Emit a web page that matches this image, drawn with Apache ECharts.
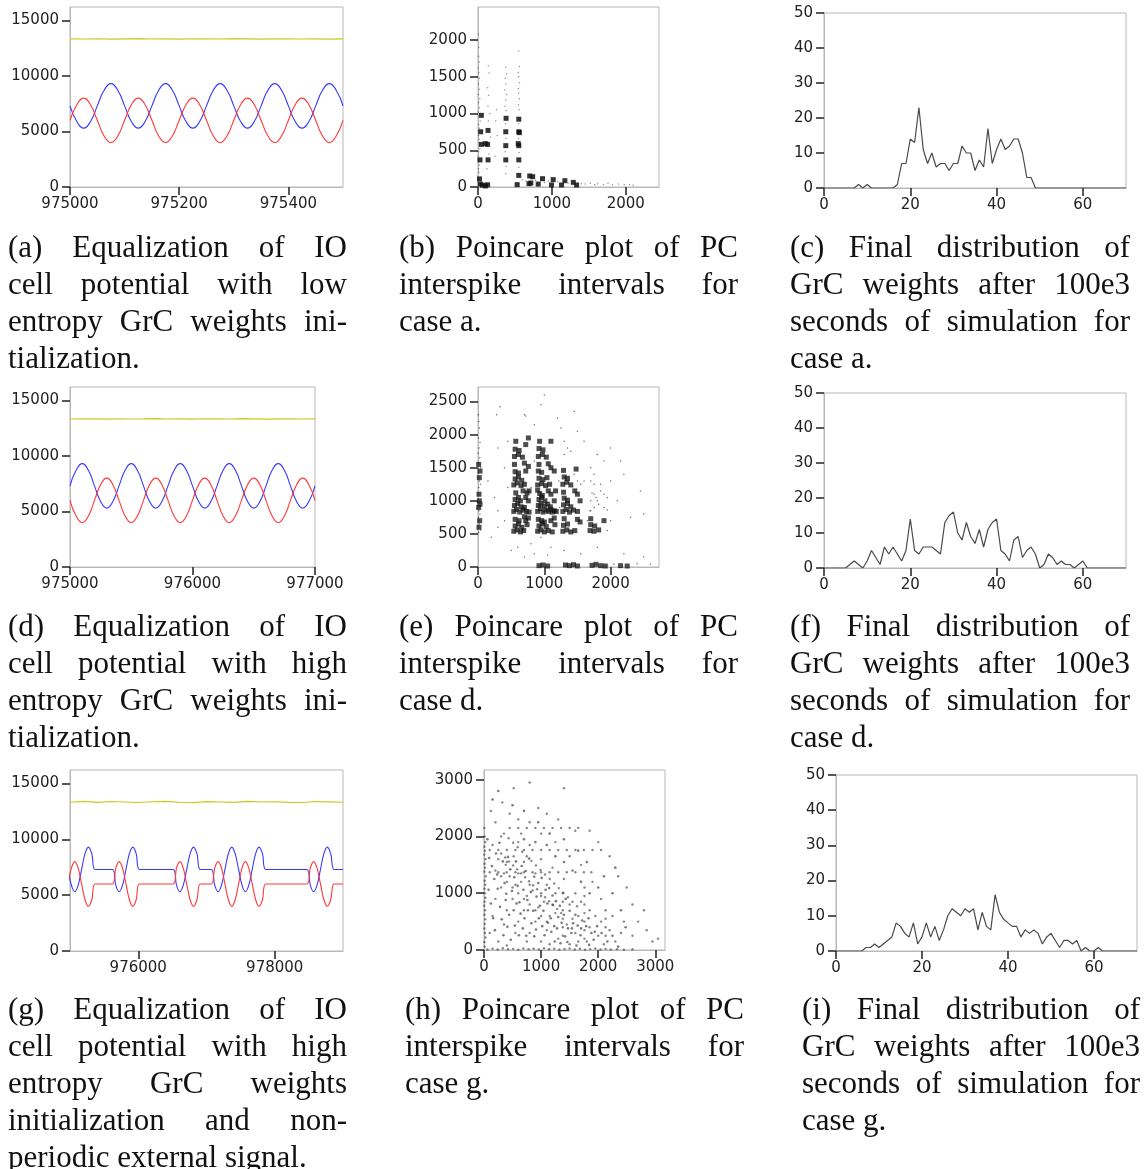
<!DOCTYPE html>
<html>
<head>
<meta charset="utf-8">
<title>IO cell equalization, Poincare plots and GrC weight distributions</title>
<script src="https://cdn.jsdelivr.net/npm/echarts@6/dist/echarts.min.js"></script>
<style>
  html, body { margin: 0; padding: 0; background: #fff; }
  #chart { position: absolute; left: 0; top: 0; width: 1144px; height: 1169px; }
  .cap {
    position: absolute;
    width: 339px;
    font-family: "Liberation Serif", "Times New Roman", serif;
    font-size: 31px;
    line-height: 37px;
    color: #111;
  }
  .cap div { text-align: justify; text-align-last: justify; }
  .cap div.last { text-align: left; text-align-last: left; }
</style>
</head>
<body>
<div id="chart"></div>

<!-- captions -->
<div class="cap" style="left:8px; top:228px;">
  <div>(a) Equalization of IO</div>
  <div>cell potential with low</div>
  <div>entropy GrC weights ini-</div>
  <div class="last">tialization.</div>
</div>
<div class="cap" style="left:399px; top:228px;">
  <div>(b) Poincare plot of PC</div>
  <div>interspike intervals for</div>
  <div class="last">case a.</div>
</div>
<div class="cap" style="left:790px; top:228px; width:340px;">
  <div>(c) Final distribution of</div>
  <div>GrC weights after 100e3</div>
  <div>seconds of simulation for</div>
  <div class="last">case a.</div>
</div>
<div class="cap" style="left:8px; top:607px;">
  <div>(d) Equalization of IO</div>
  <div>cell potential with high</div>
  <div>entropy GrC weights ini-</div>
  <div class="last">tialization.</div>
</div>
<div class="cap" style="left:399px; top:607px;">
  <div>(e) Poincare plot of PC</div>
  <div>interspike intervals for</div>
  <div class="last">case d.</div>
</div>
<div class="cap" style="left:790px; top:607px; width:340px;">
  <div>(f) Final distribution of</div>
  <div>GrC weights after 100e3</div>
  <div>seconds of simulation for</div>
  <div class="last">case d.</div>
</div>
<div class="cap" style="left:8px; top:990px;">
  <div>(g) Equalization of IO</div>
  <div>cell potential with high</div>
  <div>entropy GrC weights</div>
  <div>initialization and non-</div>
  <div class="last">periodic external signal.</div>
</div>
<div class="cap" style="left:405px; top:990px;">
  <div>(h) Poincare plot of PC</div>
  <div>interspike intervals for</div>
  <div class="last">case g.</div>
</div>
<div class="cap" style="left:802px; top:990px; width:338px;">
  <div>(i) Final distribution of</div>
  <div>GrC weights after 100e3</div>
  <div>seconds of simulation for</div>
  <div class="last">case g.</div>
</div>

<script>
// ---------- data: IO cell potentials ----------
// (a) low entropy, 975000-975500
const timeA = [975000, 975012.5, 975025, 975037.5, 975050, 975062.5, 975075, 975087.5,
  975100, 975112.5, 975125, 975137.5, 975150, 975162.5, 975175, 975187.5,
  975200, 975212.5, 975225, 975237.5, 975250, 975262.5, 975275, 975287.5,
  975300, 975312.5, 975325, 975337.5, 975350, 975362.5, 975375, 975387.5,
  975400, 975412.5, 975425, 975437.5, 975450, 975462.5, 975475, 975487.5, 975500];
const blueA = [7300, 5890, 5300, 5890, 7300, 8710, 9300, 8710,
  7300, 5890, 5300, 5890, 7300, 8710, 9300, 8710,
  7300, 5890, 5300, 5890, 7300, 8710, 9300, 8710,
  7300, 5890, 5300, 5890, 7300, 8710, 9300, 8710,
  7300, 5890, 5300, 5890, 7300, 8710, 9300, 8710, 7300];
const redA = [6000, 7410, 8000, 7410, 6000, 4590, 4000, 4590,
  6000, 7410, 8000, 7410, 6000, 4590, 4000, 4590,
  6000, 7410, 8000, 7410, 6000, 4590, 4000, 4590,
  6000, 7410, 8000, 7410, 6000, 4590, 4000, 4590,
  6000, 7410, 8000, 7410, 6000, 4590, 4000, 4590, 6000];
const timeYA = [975000, 975025, 975050, 975075, 975100, 975125, 975150, 975175, 975200, 975225, 975250,
  975275, 975300, 975325, 975350, 975375, 975400, 975425, 975450, 975475, 975500];
const yellowA = [13330, 13320, 13340, 13310, 13330, 13350, 13320, 13330, 13310, 13340, 13330,
  13320, 13350, 13330, 13310, 13330, 13340, 13320, 13330, 13310, 13330];

// (d) high entropy, 975000-977000
const timeD = [975000, 975050, 975100, 975150, 975200, 975250, 975300, 975350,
  975400, 975450, 975500, 975550, 975600, 975650, 975700, 975750,
  975800, 975850, 975900, 975950, 976000, 976050, 976100, 976150,
  976200, 976250, 976300, 976350, 976400, 976450, 976500, 976550,
  976600, 976650, 976700, 976750, 976800, 976850, 976900, 976950, 977000];
const blueD = [7300, 8710, 9300, 8710, 7300, 5890, 5300, 5890,
  7300, 8710, 9300, 8710, 7300, 5890, 5300, 5890,
  7300, 8710, 9300, 8710, 7300, 5890, 5300, 5890,
  7300, 8710, 9300, 8710, 7300, 5890, 5300, 5890,
  7300, 8710, 9300, 8710, 7300, 5890, 5300, 5890, 7300];
const redD = [6000, 4590, 4000, 4590, 6000, 7410, 8000, 7410,
  6000, 4590, 4000, 4590, 6000, 7410, 8000, 7410,
  6000, 4590, 4000, 4590, 6000, 7410, 8000, 7410,
  6000, 4590, 4000, 4590, 6000, 7410, 8000, 7410,
  6000, 4590, 4000, 4590, 6000, 7410, 8000, 7410, 6000];
const timeYD = [975000, 975100, 975200, 975300, 975400, 975500, 975600, 975700, 975800, 975900, 976000,
  976100, 976200, 976300, 976400, 976500, 976600, 976700, 976800, 976900, 977000];
const yellowD = [13320, 13340, 13330, 13310, 13340, 13320, 13330, 13350, 13320, 13330, 13310,
  13340, 13330, 13320, 13350, 13330, 13310, 13330, 13340, 13320, 13330];

// (g) non-periodic signal, 975000-979000
const timeG = [974970, 975020, 975070, 975120, 975170, 975220, 975270, 975320, 975370,
  975620, 975670, 975720, 975770, 975820, 975870, 975920, 975970, 976020,
  976510, 976560, 976610, 976660, 976710, 976760, 976810, 976860, 976910,
  977070, 977120, 977170, 977220, 977270, 977320, 977370, 977420, 977470,
  977520, 977570, 977620, 977670, 977720, 977770, 977820, 977870,
  978470, 978520, 978570, 978620, 978670, 978720, 978770, 978820, 978870,
  979000];
const blueG = [7300, 5890, 5300, 5890, 7300, 8710, 9300, 8710, 7300,
  7300, 5890, 5300, 5890, 7300, 8710, 9300, 8710, 7300,
  7300, 5890, 5300, 5890, 7300, 8710, 9300, 8710, 7300,
  7300, 5890, 5300, 5890, 7300, 8710, 9300, 8710, 7300,
  5890, 5300, 5890, 7300, 8710, 9300, 8710, 7300,
  7300, 5890, 5300, 5890, 7300, 8710, 9300, 8710, 7300,
  7300];
const redG = [6000, 7410, 8000, 7410, 6000, 4590, 4000, 4590, 6000,
  6000, 7410, 8000, 7410, 6000, 4590, 4000, 4590, 6000,
  6000, 7410, 8000, 7410, 6000, 4590, 4000, 4590, 6000,
  6000, 7410, 8000, 7410, 6000, 4590, 4000, 4590, 6000,
  7410, 8000, 7410, 6000, 4590, 4000, 4590, 6000,
  6000, 7410, 8000, 7410, 6000, 4590, 4000, 4590, 6000,
  6000];
const timeYG = [975000, 975200, 975400, 975600, 975800, 976000, 976200, 976400, 976600, 976800, 977000,
  977200, 977400, 977600, 977800, 978000, 978200, 978400, 978600, 978800, 979000];
const yellowG = [13320, 13390, 13300, 13380, 13340, 13290, 13360, 13390, 13310, 13280, 13370,
  13340, 13300, 13390, 13330, 13360, 13300, 13290, 13380, 13350, 13320];

// ---------- data: PC interspike Poincare plots ----------
// (b) dense clusters and sparse dots
const blobsB = [[376, 369], [376, 563], [376, 752], [380, 935], [552, 369], [552, 563], [552, 752], [552, 923],
  [545, 590], [560, 740], [136, 369], [130, 580], [100, 590], [136, 770], [36, 752], [45, 580], [27, 369],
  [45, 975], [30, 40], [60, 25], [100, 15], [20, 110], [130, 30], [530, 32], [552, 158], [700, 150], [740, 140],
  [715, 54], [690, 45], [873, 113], [815, 40], [1018, 100], [995, 27], [1176, 86], [1131, 27], [1290, 63], [1335, 27]];
const dotsB = [[5, 2080], [10, 1900], [8, 1780], [15, 1700], [5, 1620], [12, 1560], [20, 1480], [8, 1400], [15, 1330],
  [5, 1260], [25, 1200], [10, 1150], [18, 1080], [6, 1020], [30, 900], [12, 850], [20, 800], [8, 700], [15, 650],
  [25, 520], [10, 480], [5, 420], [18, 300], [8, 250], [12, 200],
  [140, 1650], [150, 1550], [130, 1350], [145, 1250], [135, 1100], [160, 1000], [140, 900], [170, 680], [150, 450], [120, 250],
  [250, 1050], [240, 900], [260, 700], [230, 420],
  [376, 1630], [385, 1540], [368, 1480], [378, 1400], [362, 1320], [388, 1260], [376, 1180], [366, 1100], [384, 1040],
  [372, 860], [378, 660], [370, 480], [380, 280], [376, 180],
  [552, 1850], [560, 1640], [544, 1560], [552, 1500], [562, 1420], [546, 1340], [552, 1280], [560, 1200], [548, 1120],
  [556, 1050], [552, 860], [548, 660], [556, 470], [552, 270],
  [1400, 45], [1450, 40], [1520, 50], [1580, 30], [1620, 45], [1700, 35], [1760, 50], [1820, 30], [1900, 40],
  [1980, 30], [2050, 35], [2100, 25], [600, 100], [650, 80], [780, 90], [900, 60], [950, 80], [1080, 70], [1220, 50]];

// (e) dense blocks and sparse dots
const blobsE = [
  [900, 840], [940, 880], [980, 830], [1020, 860], [1060, 840], [1100, 870], [1150, 850], [910, 930], [950, 960],
  [1000, 920], [1050, 950], [1090, 910], [920, 1020], [960, 1050], [1010, 1000], [930, 1110], [970, 1080], [900, 1160],
  [1120, 830], [1180, 840], [1100, 1100], [1150, 1000], [1060, 1150], [1170, 1150],
  [540, 840], [580, 870], [630, 830], [680, 860], [730, 840], [770, 830], [550, 930], [600, 960], [650, 910], [700, 900],
  [560, 1020], [610, 1050], [570, 1120], [640, 1000], [720, 1050], [760, 1000], [680, 1150], [770, 1150], [740, 1120],
  [1280, 840], [1330, 870], [1380, 830], [1440, 860], [1500, 840], [1290, 940], [1350, 960], [1400, 910], [1300, 1040],
  [1350, 1010], [1290, 1130], [1500, 1100], [1540, 1000], [1460, 1150],
  [540, 540], [590, 560], [640, 530], [690, 550], [560, 620], [610, 650], [660, 600], [560, 720], [620, 700],
  [720, 700], [760, 740], [740, 640], [700, 760],
  [900, 540], [950, 560], [1000, 530], [1060, 550], [1120, 530], [920, 620], [970, 650], [1030, 610], [910, 720],
  [960, 700], [1000, 680], [1100, 700], [1150, 740], [1160, 640],
  [1280, 540], [1340, 560], [1400, 530], [1460, 550], [1290, 630], [1350, 650], [1300, 730], [1500, 720], [1540, 680],
  [1690, 550], [1750, 540], [1820, 560], [1700, 640], [1760, 620], [1700, 730], [1900, 700],
  [540, 1240], [590, 1270], [650, 1230], [700, 1250], [560, 1330], [610, 1360], [660, 1310], [560, 1440], [610, 1420],
  [550, 1550], [720, 1450], [760, 1520], [700, 1570],
  [900, 1240], [960, 1260], [1020, 1230], [1080, 1250], [920, 1340], [980, 1320], [1040, 1350], [910, 1450], [960, 1430],
  [920, 1550], [1100, 1500], [1150, 1450], [1060, 1560],
  [1280, 1250], [1340, 1280], [1400, 1240], [1300, 1360], [1350, 1340], [1290, 1460], [1480, 1480],
  [550, 1670], [610, 1700], [670, 1660], [560, 1780], [620, 1760], [570, 1900], [720, 1850], [760, 1950],
  [910, 1670], [970, 1700], [1030, 1660], [920, 1790], [980, 1770], [930, 1900], [1100, 1900],
  [10, 900], [20, 1000], [15, 1100], [30, 950], [20, 1350], [30, 1450], [10, 1550], [25, 700], [15, 600],
  [920, 20], [980, 30], [1050, 15], [1320, 30], [1380, 20], [1440, 35], [1500, 15], [1720, 25], [1780, 40],
  [1850, 20], [1920, 15], [2150, 20], [2250, 15]];
const dotsE = [[5, 2300], [10, 2200], [20, 2100], [8, 1950], [30, 1880], [15, 1800], [5, 1720], [25, 1650], [12, 1580],
  [40, 1500], [8, 1420], [20, 1300], [35, 1250], [10, 1200], [15, 850], [30, 800], [8, 750], [20, 650], [40, 560], [10, 520],
  [280, 2300], [330, 2420], [700, 2300], [720, 2280], [1000, 2600], [950, 2450], [1200, 2250], [1450, 2350], [1250, 2100],
  [850, 2150], [1500, 2050], [1600, 1900], [1800, 1700], [1900, 1600], [2000, 1800], [2150, 1600], [2200, 1400],
  [2000, 1300], [1850, 1250], [1750, 1400], [1700, 1500], [1950, 1050], [1900, 900], [1800, 1000], [1700, 850],
  [1750, 1100], [1850, 1150], [2100, 1000], [2000, 700], [1950, 550], [2300, 750], [2500, 800], [2450, 1150],
  [300, 850], [400, 700], [300, 600], [200, 450], [150, 1300], [250, 1050], [450, 1200], [400, 1500], [300, 1800],
  [450, 1900], [800, 1200], [850, 1600], [1220, 1300], [1230, 900], [1600, 1300], [1650, 700], [800, 350], [700, 150],
  [850, 200], [1100, 300], [1050, 180], [1300, 250], [1550, 200], [1800, 300], [2200, 200], [2500, 150], [2600, 40],
  [2400, 50], [2050, 40], [950, 450], [600, 300], [500, 250],
  [1690, 850], [1750, 900], [1820, 950], [1700, 1000], [1780, 1050], [1720, 1120], [1900, 1100], [1950, 860],
  [1500, 1300], [1550, 1250], [1450, 1400], [1700, 1300], [1750, 1250], [1300, 1700], [1350, 1800], [1300, 1900], [1400, 1750]];

// (h) diffuse cloud: edges, diagonal and straight streaks, scattered outliers
const dotsH = [[5, 2150], [10, 2000], [20, 1900], [8, 1820], [15, 1750], [5, 1680], [25, 1600], [10, 1520], [18, 1450],
  [6, 1380], [30, 1300], [12, 1220], [20, 1150], [8, 1080], [15, 1000], [25, 920], [10, 850], [5, 780], [18, 700],
  [8, 620], [22, 540], [12, 460], [6, 380], [16, 300], [26, 220], [8, 140], [14, 60],
  [60, 10], [150, 25], [240, 8], [330, 30], [420, 12], [510, 20], [600, 5], [690, 28], [780, 15], [870, 22], [960, 8],
  [1050, 30], [1140, 12], [1230, 25], [1320, 6], [1410, 18], [1500, 28], [1590, 10], [1680, 22], [1770, 5], [1860, 16],
  [1950, 26], [2040, 10], [2130, 20], [2220, 8], [2330, 15], [2450, 6], [2600, 12],
  [300, 1700], [370, 1630], [440, 1560], [510, 1490], [580, 1420], [650, 1350], [720, 1280], [790, 1210], [860, 1140],
  [930, 1070], [1000, 1000], [1070, 930], [1140, 860], [1210, 790], [1280, 720], [1350, 650],
  [350, 2050], [430, 1970], [510, 1890], [590, 1810], [670, 1730], [750, 1650], [830, 1570], [910, 1490], [990, 1410],
  [1070, 1330], [1150, 1250], [1230, 1170], [1310, 1090], [1390, 1010], [1470, 930], [1550, 850], [1630, 770],
  [200, 1400], [300, 1300], [400, 1200], [500, 1100], [600, 1000], [700, 900], [800, 800], [900, 700], [1000, 600], [1100, 500],
  [450, 2150], [600, 2150], [750, 2150], [900, 2150], [1050, 2150], [1200, 2150], [1350, 2150], [1500, 2150], [1650, 2150],
  [100, 1760], [250, 1760], [400, 1760], [550, 1760], [700, 1760], [850, 1760], [1000, 1760], [1150, 1760], [1300, 1760],
  [1450, 1760], [1600, 1760], [1750, 1760], [1900, 1760], [2050, 1760],
  [100, 1370], [250, 1370], [400, 1370], [550, 1370], [700, 1370], [850, 1370], [1000, 1370], [1150, 1370], [1300, 1370],
  [1450, 1370], [1600, 1370], [1750, 1370], [1880, 1370],
  [1380, 250], [1380, 400], [1380, 550], [1380, 700], [1380, 850], [1380, 1000],
  [1760, 200], [1760, 350], [1760, 500], [1760, 650], [1760, 800], [1760, 950], [1760, 1100],
  [2130, 250], [2130, 400], [2130, 550], [2130, 700],
  [120, 2450], [200, 2250], [320, 2600], [450, 2400], [600, 2300], [520, 2850], [800, 2950], [1400, 2850], [950, 2500],
  [1100, 2400], [1300, 2300], [1600, 2100], [1850, 2100], [2000, 1900], [2200, 1650], [2350, 1300], [2500, 1100],
  [2600, 800], [2700, 500], [2850, 350], [2950, 150], [2400, 300], [2250, 600], [2050, 900], [1900, 1200], [1700, 1500],
  [1500, 1650], [1250, 1900], [1000, 2050], [800, 2250], [650, 2050], [300, 2000], [150, 1850], [250, 1600], [380, 1500],
  [520, 1650], [700, 1550], [900, 1350], [1100, 1150], [1250, 1000], [1500, 800], [1650, 600], [1850, 400], [2000, 250],
  [2300, 150], [1950, 600], [1600, 1000], [1400, 1250], [1200, 1450], [1000, 1600], [800, 1850], [600, 1900], [450, 1300],
  [650, 1200], [850, 1050], [1050, 850], [1250, 650], [1450, 450], [1600, 300], [1800, 150], [300, 1100], [500, 900],
  [700, 700], [900, 500], [1100, 350], [1300, 200], [1500, 100], [200, 900], [400, 700], [600, 500], [800, 300],
  [1000, 150], [150, 600], [350, 450], [550, 300], [750, 150], [100, 300], [250, 150], [400, 80], [1150, 600], [950, 750],
  [750, 950], [550, 1150], [350, 1350], [1200, 800], [1000, 950], [800, 1150], [600, 1350], [400, 1550], [1550, 550],
  [1700, 850], [1850, 700], [2050, 500], [2200, 350], [1150, 100], [1650, 150], [2100, 100], [2450, 500], [2600, 250],
  [3050, 200], [2800, 700]];
// (h) denser core of the cloud
const coreH = [[60, 1950], [90, 1620], [140, 1480], [180, 1250], [210, 1700], [240, 1080], [270, 1890], [330, 1560],
  [360, 1180], [390, 990], [420, 1640], [460, 1420], [490, 1040], [530, 1280], [560, 1560], [590, 1130], [620, 840],
  [660, 1480], [690, 1060], [730, 1390], [760, 880], [790, 1610], [820, 1020], [860, 690], [880, 1290], [920, 940],
  [950, 1180], [980, 780], [1010, 1270], [1040, 690], [1080, 1060], [1110, 820], [1140, 1090], [1170, 560], [1200, 960],
  [1230, 420], [1260, 860], [1300, 580], [1330, 780], [1360, 480], [1400, 620], [1430, 900], [1470, 380], [1500, 690],
  [1530, 300], [1560, 470], [1600, 620], [1640, 430], [1690, 260], [1720, 520], [1790, 420], [1830, 560], [1880, 300],
  [1920, 180], [1980, 420], [2060, 300], [2160, 150],
  [80, 1060], [120, 820], [160, 560], [190, 350], [230, 1330], [280, 760], [310, 540], [340, 260], [380, 880], [410, 410],
  [440, 620], [470, 180], [520, 700], [540, 430], [570, 820], [610, 260], [640, 640], [680, 380], [710, 560], [740, 250],
  [770, 700], [830, 470], [880, 240], [910, 360], [960, 560], [1020, 420], [1060, 260], [1120, 480], [1180, 320],
  [1240, 150], [1280, 380], [1340, 120], [1420, 240], [1460, 140], [1540, 380], [1620, 80], [1700, 380], [1840, 90],
  [1940, 320], [2250, 250], [2350, 60], [2480, 400],
  [700, 1950], [900, 1900], [1100, 1850], [1250, 1650], [1400, 1550], [1550, 1400], [1700, 1200], [1850, 1000],
  [2000, 1100], [1650, 1750], [1400, 1950], [1150, 2050], [950, 2250], [700, 2450], [500, 2550], [250, 2800],
  [150, 2650], [1800, 1550], [2100, 1300], [2250, 1000], [2400, 700], [2300, 1450]];

// ---------- data: final GrC weight histograms (bins 0..70) ----------
const countsC = [0, 0, 0, 0, 0, 0, 0, 0, 1, 0, 1, 0, 0, 0, 0, 0, 0, 1, 7, 7, 14, 13, 23, 11, 7, 10, 6, 7, 7, 5,
  7, 7, 12, 10, 10, 5, 8, 6, 17, 7, 11, 14, 11, 12, 14, 14, 10, 3, 3, 0,
  0, 0, 0, 0, 0, 0, 0, 0, 0, 0, 0, 0, 0, 0, 0, 0, 0, 0, 0, 0, 0];
const countsF = [0, 0, 0, 0, 0, 0, 1, 2, 1, 0, 2, 5, 3, 1, 6, 4, 6, 4, 2, 5, 14, 5, 4, 6, 6, 6, 5, 4, 13, 15,
  16, 10, 8, 13, 9, 7, 11, 6, 11, 13, 14, 5, 4, 2, 8, 9, 3, 5, 6, 4, 0, 1, 4, 3, 1, 2, 1, 1, 0, 1,
  2, 0, 0, 0, 0, 0, 0, 0, 0, 0, 0];
const countsI = [0, 0, 0, 0, 0, 0, 0, 1, 1, 2, 1, 2, 3, 4, 8, 7, 5, 4, 8, 2, 4, 8, 4, 7, 3, 6, 10, 12, 11, 10,
  12, 11, 12, 6, 11, 7, 6, 16, 11, 9, 8, 7, 7, 4, 6, 5, 6, 5, 2, 4, 5, 3, 1, 3, 3, 2, 3, 0, 1, 0,
  0, 1, 0, 0, 0, 0, 0, 0, 0, 0, 0];

// tick labels
const ticksPot = [0, 5000, 10000, 15000];
const ticksTimeA = [975000, 975200, 975400];
const ticksTimeD = [975000, 976000, 977000];
const ticksTimeG = [976000, 978000];
const ticksIsiB = [0, 1000, 2000];
const ticksIsiBy = [0, 500, 1000, 1500, 2000];
const ticksIsiEy = [0, 500, 1000, 1500, 2000, 2500];
const ticksIsiH = [0, 1000, 2000, 3000];
const ticksWeight = [0, 20, 40, 60];
const ticksCount = [0, 10, 20, 30, 40, 50];

// ---------- chart ----------
const chart = echarts.init(document.getElementById('chart'));

const pairs = (xs, ys) => xs.map((x, i) => [x, ys[i]]);
const bins = (counts) => counts.map((c, i) => [i, c]);

const grids = [
  { left: 70, top: 7, width: 273, height: 180 },    // a
  { left: 478, top: 7, width: 181, height: 180 },   // b
  { left: 824, top: 13, width: 302, height: 175 },  // c
  { left: 70, top: 387, width: 245, height: 180 },  // d
  { left: 478, top: 387, width: 181, height: 180 }, // e
  { left: 824, top: 393, width: 302, height: 175 }, // f
  { left: 70, top: 770, width: 273, height: 181 },  // g
  { left: 484, top: 770, width: 181, height: 180 }, // h
  { left: 836, top: 775, width: 301, height: 176 }  // i
].map(g => Object.assign({ show: true, borderColor: '#b8b8b8', borderWidth: 1, backgroundColor: '#fff' }, g));

// shared axis look: grey frame, dark outward ticks, plain numbers
const axis = (gridIndex, min, max, ticks, margin) => ({
  type: 'value',
  gridIndex: gridIndex,
  min: min,
  max: max,
  axisLine: { show: true, onZero: false, lineStyle: { color: '#b8b8b8', width: 1 } },
  axisTick: { show: true, length: 8, customValues: ticks, lineStyle: { color: '#222', width: 1.5 } },
  axisLabel: {
    customValues: ticks, margin: margin, color: '#222',
    fontFamily: 'DejaVu Sans', fontSize: 15,
    formatter: (v) => String(v)
  },
  splitLine: { show: false }
});

const xAxes = [
  axis(0, 975000, 975500, ticksTimeA, 10),
  axis(1, 0, 2450, ticksIsiB, 10),
  axis(2, 0, 70, ticksWeight, 10),
  axis(3, 975000, 977000, ticksTimeD, 10),
  axis(4, 0, 2730, ticksIsiB, 10),
  axis(5, 0, 70, ticksWeight, 10),
  axis(6, 975000, 979000, ticksTimeG, 10),
  axis(7, 0, 3170, ticksIsiH, 10),
  axis(8, 0, 70, ticksWeight, 10)
];
const yAxes = [
  axis(0, 0, 16200, ticksPot, 11),
  axis(1, 0, 2450, ticksIsiBy, 11),
  axis(2, 0, 50, ticksCount, 11),
  axis(3, 0, 16200, ticksPot, 11),
  axis(4, 0, 2720, ticksIsiEy, 11),
  axis(5, 0, 50, ticksCount, 11),
  axis(6, 0, 16200, ticksPot, 11),
  axis(7, 0, 3170, ticksIsiH, 11),
  axis(8, 0, 50, ticksCount, 11)
];

const BLUE = '#3838ff', RED = '#ff3838', YELLOW = '#c9c922', HIST = '#4a4a4a';

const potLine = (idx, data, color, smooth) => ({
  type: 'line', xAxisIndex: idx, yAxisIndex: idx, data: data,
  showSymbol: false, smooth: smooth, silent: true,
  lineStyle: { color: color, width: 1.1 }
});
const histLine = (idx, counts) => ({
  type: 'line', xAxisIndex: idx, yAxisIndex: idx, data: bins(counts),
  showSymbol: false, silent: true,
  lineStyle: { color: HIST, width: 1.2 }
});
const scatter = (idx, data, size, opacity, symbol) => ({
  type: 'scatter', xAxisIndex: idx, yAxisIndex: idx, data: data,
  symbol: symbol || 'circle', symbolSize: size, silent: true,
  itemStyle: { color: '#111', opacity: opacity }
});

const option = {
  animation: false,
  grid: grids,
  xAxis: xAxes,
  yAxis: yAxes,
  series: [
    // (a)
    potLine(0, pairs(timeYA, yellowA), YELLOW, false),
    potLine(0, pairs(timeA, blueA), BLUE, true),
    potLine(0, pairs(timeA, redA), RED, true),
    // (b)
    scatter(1, dotsB, 1.5, 0.45),
    scatter(1, blobsB, 5, 0.85, 'rect'),
    // (c)
    histLine(2, countsC),
    // (d)
    potLine(3, pairs(timeYD, yellowD), YELLOW, false),
    potLine(3, pairs(timeD, blueD), BLUE, true),
    potLine(3, pairs(timeD, redD), RED, true),
    // (e)
    scatter(4, dotsE, 1.5, 0.6),
    scatter(4, blobsE, 5, 0.75, 'rect'),
    // (f)
    histLine(5, countsF),
    // (g)
    potLine(6, pairs(timeYG, yellowG), YELLOW, false),
    potLine(6, pairs(timeG, blueG), BLUE, 0.35),
    potLine(6, pairs(timeG, redG), RED, 0.35),
    // (h)
    scatter(7, dotsH, 2.4, 0.5),
    scatter(7, coreH, 2.6, 0.55),
    // (i)
    histLine(8, countsI)
  ]
};

chart.setOption(option);
</script>
</body>
</html>
